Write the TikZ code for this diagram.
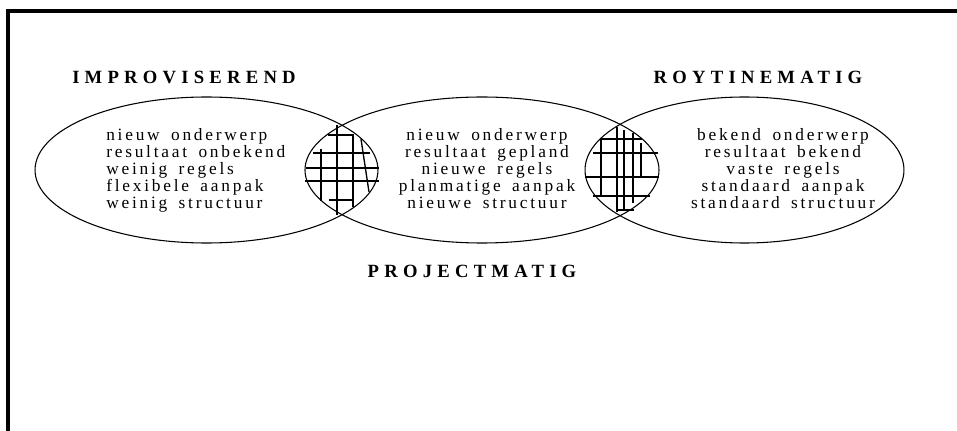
\documentclass[tikz,border=0pt]{standalone}
\usepackage{fontspec}
\setmainfont{Liberation Serif}
\newfontfamily\bodyfont[LetterSpace=16,WordSpace=1.6]{Liberation Serif}
\newfontfamily\headfont[LetterSpace=28]{Liberation Serif}
\begin{document}
\begin{tikzpicture}[x=0.75pt,y=-0.75pt,
  frameline/.style={line width=2.5pt},
  oval/.style={line width=0.8pt},
  hatch/.style={line width=1pt},
  headlabel/.style={inner sep=0pt,anchor=base,font=\headfont\bfseries\fontsize{14}{16}\selectfont},
  bodytext/.style={inner sep=0pt,font=\bodyfont\fontsize{13}{12.75}\selectfont}]
\useasboundingbox (0,0) rectangle (957,431);
% frame
\draw[frameline] (8,431) -- (8,11) -- (957,11);
% ellipses
\draw[oval] (206.5,170) ellipse [x radius=128.6pt, y radius=54.75pt];
\draw[oval] (482,170) ellipse [x radius=132.75pt, y radius=54.75pt];
\draw[oval] (744.5,170) ellipse [x radius=119.6pt, y radius=54.75pt];
% titles
\node[headlabel] (impro) at (184,84) {IMPROVISEREND};
\node[headlabel] (routine) at (758,84) {ROYTINEMATIG};
\node[headlabel] (project) at (472,277) {PROJECTMATIG};
% texts
\node[bodytext,anchor=north west,align=left] (ltext) at (106,128)
  {nieuw onderwerp\\resultaat onbekend\\weinig regels\\flexibele aanpak\\weinig structuur};
\node[bodytext,anchor=north,align=center] (mtext) at (487,128)
  {nieuw onderwerp\\resultaat gepland\\nieuwe regels\\planmatige aanpak\\nieuwe structuur};
\node[bodytext,anchor=north,align=center] (rtext) at (783,128)
  {bekend onderwerp\\resultaat bekend\\vaste regels\\standaard aanpak\\standaard structuur};
% hatching lens 1
\draw[hatch] (328,135) -- (354,135);
\draw[hatch] (313,153) -- (370,153);
\draw[hatch] (306,168) -- (379,168);
\draw[hatch] (305,181) -- (379,181);
\draw[hatch] (329,200) -- (354,200);
\draw[hatch] (321,149) -- (321,201);
\draw[hatch] (337,125) -- (337,215);
\draw[hatch] (353,134) -- (353,207);
\draw[hatch] (361,139) -- (369,192);
% hatching lens 2
\draw[hatch] (601,139) -- (642,139);
\draw[hatch] (593,153) -- (658,153);
\draw[hatch] (585,177) -- (659,177);
\draw[hatch] (593,196) -- (650,196);
\draw[hatch] (618,210) -- (634,210);
\draw[hatch] (601,139) -- (601,196);
\draw[hatch] (617,127) -- (617,212);
\draw[hatch] (624,130) -- (624,210);
\draw[hatch] (633,133) -- (633,203);
\draw[hatch] (641,143) -- (641,177);
\end{tikzpicture}
\end{document}
